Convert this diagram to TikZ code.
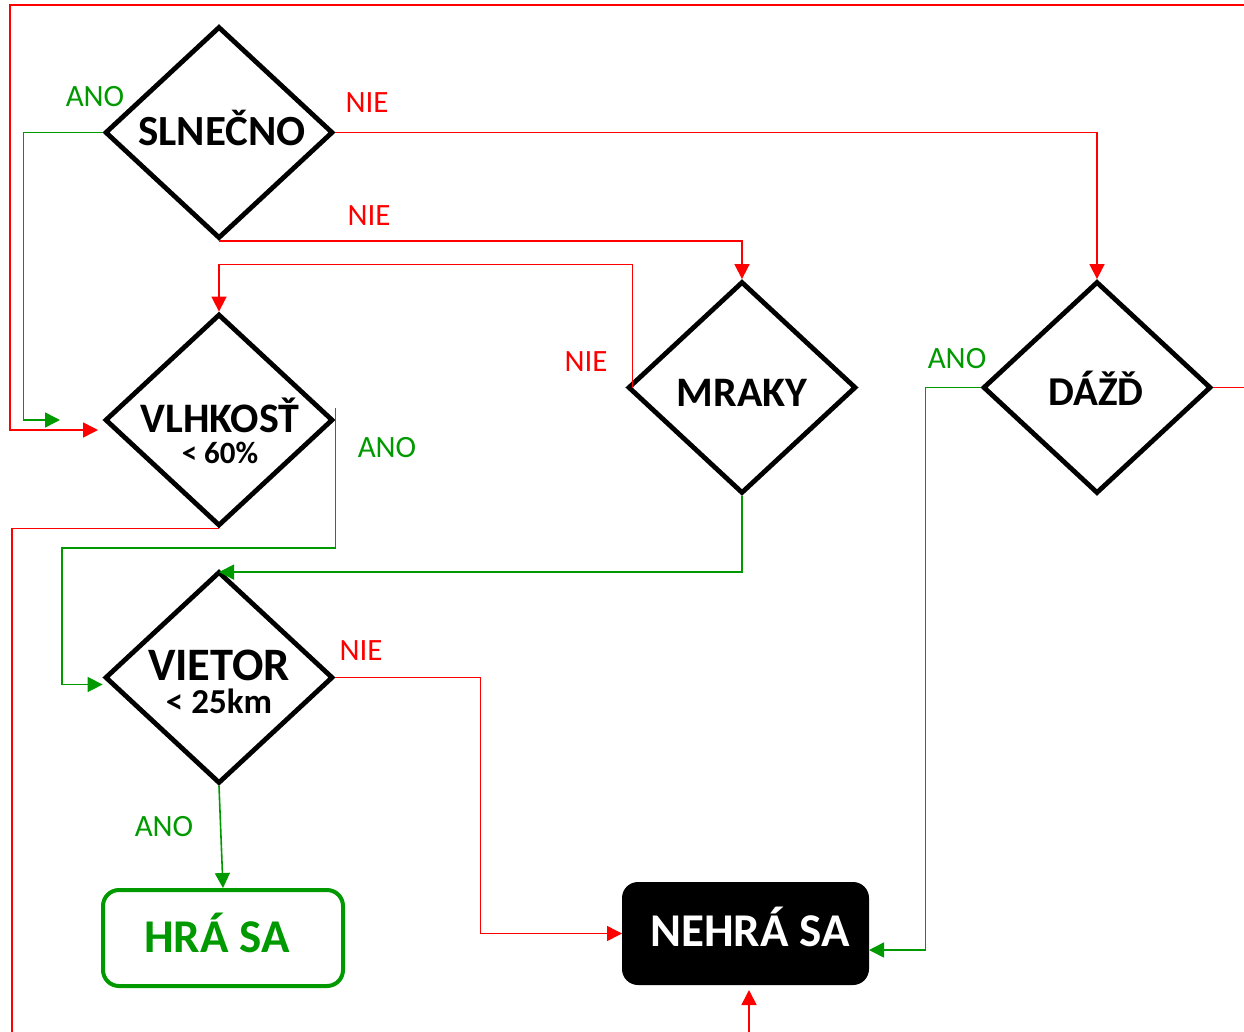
\documentclass[tikz,border=0pt]{standalone}
\usepackage{fontspec}
\setmainfont{Carlito}
\usetikzlibrary{shapes.geometric, arrows.meta}
\definecolor{cervena}{RGB}{255,0,0}
\definecolor{zelena}{RGB}{0,153,0}
\tikzset{
        x=1pt, y=-1pt, % one unit is one pixel, y runs down
        >={Triangle[length=15pt,width=15pt]}, % filled arrow heads
        rozhod/.style={diamond, draw, line width=4.8pt, minimum width=228pt, minimum height=212pt, inner sep=0pt}, % decision diamonds
        vetvanie/.style={draw=cervena, line width=1.6pt, ->}, % NIE branch
        vetvaano/.style={draw=zelena, line width=1.6pt, ->}, % ANO branch
    }
\tikzset{
      nadpis/.style={
		font=\bfseries\fontsize{#1}{#1}\selectfont,
		anchor=base,
		inner sep=0pt,
	  },
      popis/.style={
		font=\fontsize{31}{31}\selectfont,
		anchor=base,
		inner sep=0pt,
		text=#1,
	  },
      koniec/.style={
		rounded corners=16pt,
		line width=4pt,
	  }
  	}

\begin{document}
\begin{tikzpicture}
    \useasboundingbox (0,0) rectangle (1244,1032);
    % decisions
    \node [rozhod] (slnecno) at (219,132.5) {};
    \node [rozhod] (vlhkost) at (219,420) {};
    \node [rozhod] (mraky) at (742,387.5) {};
    \node [rozhod] (dazd) at (1097,387.5) {};
    \node [rozhod] (vietor) at (219,677.5) {};
    \node [nadpis=43] (slnecnoT) at (222,146) {SLNEČNO};
    \node [nadpis=42] (vlhkostT) at (220,432) {VLHKOSŤ};
    \node [nadpis=31] (vlhkostP) at (220,463) {< 60\%};
    \node [nadpis=42] (mrakyT) at (742,406) {MRAKY};
    \node [nadpis=41] (dazdT) at (1096,405) {DÁŽĎ};
    \node [nadpis=46.5, align=center, anchor=north] (vietorT) at (219,650) {VIETOR\\[-14pt]{\fontsize{35}{35}\selectfont < 25km}};
    % results
    \node [koniec, draw=zelena, minimum width=240pt, minimum height=96pt] (hra) at (223,938) {};
    \node [koniec, fill=black, minimum width=247pt, minimum height=103pt, line width=0pt] (nehra) at (745.5,933.5) {};
    \node [nadpis=47, text=zelena] (hraT) at (217,952) {HRÁ SA};
    \node [nadpis=47, text=white] (nehraT) at (750,946) {NEHRÁ SA};
    \coordinate (vlhR) at (98,430);
    \coordinate (vlhZ) at (60,420);
    % NIE
    \draw [vetvanie] (slnecno.east) -| (dazd.north);
    \draw [vetvanie] (slnecno.south) -| (mraky.north);
    \draw [vetvanie] ([xshift=7pt]mraky.west) |- ([yshift=47pt]vlhkost.north) -- (vlhkost.north);
    \draw [vetvanie] (vietor.east) -- ++(145,0) |- (nehra.west);
    \draw [vetvanie] (dazd.east) -| (1260,5) -| (10,430) -- (vlhR);
    \draw [vetvanie] (vlhkost.south) -| (12,1045) -| ([xshift=3.5pt,yshift=-5pt]nehra.south);
    % ANO
    \draw [vetvaano] (slnecno.west) -- ++(-79,0) |- (vlhZ);
    \draw [vetvaano] ([yshift=12pt]vlhkost.east) |- (62,548) |- ([yshift=-7pt]vietor.west);
    \draw [vetvaano] (mraky.south) |- ([yshift=-3pt]vietor.north);
    \draw [vetvaano] (vietor.south) -- (hra.north);
    \draw [vetvaano] (dazd.west) -- ++(-55,0) |- ([yshift=-16.5pt]nehra.east);
    % branch labels
    \node [popis=zelena] (anoSl) at (95,107) {ANO};
    \node [popis=cervena] (nieSlP) at (367,113) {NIE};
    \node [popis=cervena] (nieSlD) at (369,226) {NIE};
    \node [popis=cervena] (nieMr) at (586,371) {NIE};
    \node [popis=zelena] (anoVl) at (387,457) {ANO};
    \node [popis=zelena] (anoDa) at (957,368) {ANO};
    \node [popis=cervena] (nieVi) at (361,660) {NIE};
    \node [popis=zelena] (anoVi) at (164,836) {ANO};
  \end{tikzpicture}
\end{document}
